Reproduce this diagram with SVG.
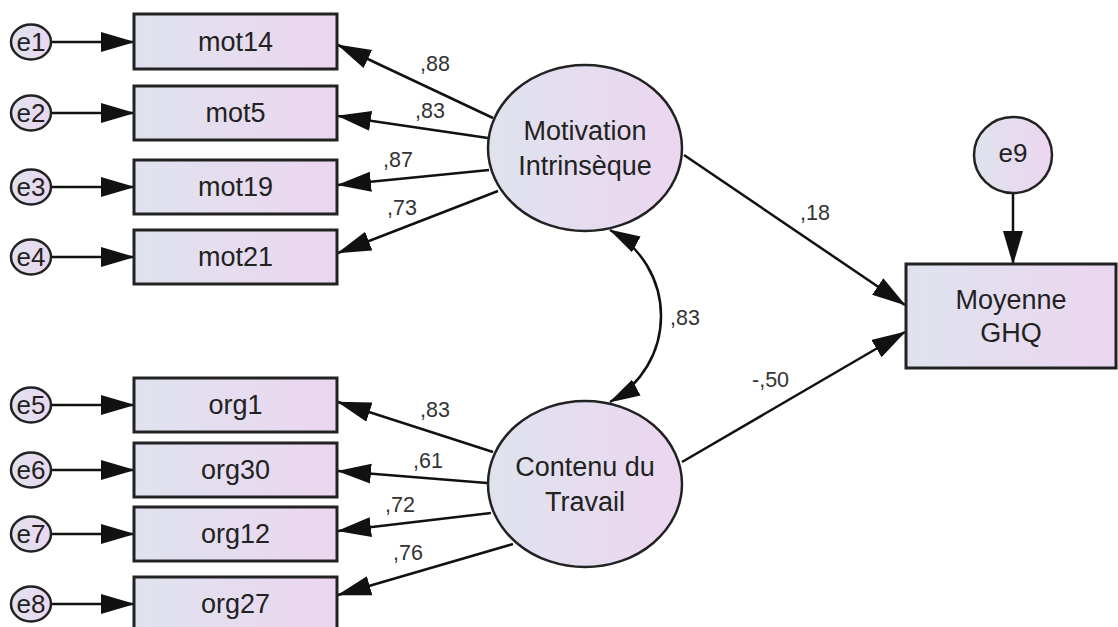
<svg xmlns="http://www.w3.org/2000/svg" width="1118" height="627" viewBox="0 0 1118 627">
<defs>
<linearGradient id="g" x1="0" y1="0" x2="1" y2="0">
<stop offset="0" stop-color="#dfe3ee"/>
<stop offset="1" stop-color="#ecd6f0"/>
</linearGradient>
<marker id="ah" markerUnits="userSpaceOnUse" markerWidth="36" markerHeight="22" refX="33" refY="10" orient="auto">
<path d="M0,0 L34,10 L0,20 z" fill="#111"/>
</marker>
<marker id="ah2" markerUnits="userSpaceOnUse" markerWidth="34" markerHeight="22" refX="30" refY="9" orient="auto-start-reverse">
<path d="M0,0 L31,9 L0,18 z" fill="#111"/>
</marker>
<style>
.box{fill:url(#g);stroke:#222;stroke-width:3}
.ell{fill:url(#g);stroke:#222;stroke-width:2.5}
.t{font-family:"Liberation Sans",Arial,sans-serif;font-size:27px;fill:#222;text-anchor:middle;dominant-baseline:central}
.et{font-family:"Liberation Sans",Arial,sans-serif;font-size:26px;fill:#222;text-anchor:middle;dominant-baseline:central}
.lb{font-family:"Liberation Sans",Arial,sans-serif;font-size:21.5px;fill:#333}
.c{stroke:#111;stroke-width:2.5;fill:none;marker-end:url(#ah)}
</style>
</defs>

<g id="connectors">
<line class="c" x1="51" y1="42" x2="134" y2="42"/>
<line class="c" x1="51" y1="113" x2="134" y2="113"/>
<line class="c" x1="51" y1="187" x2="134" y2="187"/>
<line class="c" x1="51" y1="257" x2="134" y2="257"/>
<line class="c" x1="51" y1="405" x2="134" y2="405"/>
<line class="c" x1="51" y1="470" x2="134" y2="470"/>
<line class="c" x1="51" y1="534" x2="134" y2="534"/>
<line class="c" x1="51" y1="604" x2="134" y2="604"/>
<line class="c" x1="493" y1="118" x2="338" y2="45"/>
<line class="c" x1="488" y1="138" x2="338" y2="116"/>
<line class="c" x1="489" y1="170" x2="338" y2="185"/>
<line class="c" x1="498" y1="191" x2="338" y2="253"/>
<line class="c" x1="493" y1="452" x2="338" y2="402"/>
<line class="c" x1="487" y1="483" x2="338" y2="471"/>
<line class="c" x1="491" y1="513" x2="338" y2="531"/>
<line class="c" x1="513" y1="544" x2="338" y2="595"/>
<line class="c" x1="684" y1="155" x2="905" y2="305"/>
<line class="c" x1="682" y1="462" x2="905" y2="332"/>
<line class="c" x1="1013" y1="193" x2="1013" y2="264"/>
<path d="M610,230 A98,98 0 0 1 610,402" fill="none" stroke="#111" stroke-width="2.5" marker-start="url(#ah2)" marker-end="url(#ah2)"/>
<text class="lb" x="420" y="71">,88</text>
<text class="lb" x="415" y="118">,83</text>
<text class="lb" x="383" y="167">,87</text>
<text class="lb" x="387" y="215">,73</text>
<text class="lb" x="420" y="417">,83</text>
<text class="lb" x="413" y="468">,61</text>
<text class="lb" x="385" y="512">,72</text>
<text class="lb" x="393" y="560">,76</text>
<text class="lb" x="800" y="220">,18</text>
<text class="lb" x="752" y="387">-,50</text>
<text class="lb" x="670" y="325">,83</text>
</g>

<g id="e1"><ellipse class="ell" cx="31" cy="42" rx="20" ry="17.5"/><text class="et" x="31" y="42">e1</text></g>
<g id="e2"><ellipse class="ell" cx="31" cy="113" rx="20" ry="17.5"/><text class="et" x="31" y="113">e2</text></g>
<g id="e3"><ellipse class="ell" cx="31" cy="187" rx="20" ry="17.5"/><text class="et" x="31" y="187">e3</text></g>
<g id="e4"><ellipse class="ell" cx="31" cy="257" rx="20" ry="17.5"/><text class="et" x="31" y="257">e4</text></g>
<g id="e5"><ellipse class="ell" cx="31" cy="405" rx="20" ry="17.5"/><text class="et" x="31" y="405">e5</text></g>
<g id="e6"><ellipse class="ell" cx="31" cy="470" rx="20" ry="17.5"/><text class="et" x="31" y="470">e6</text></g>
<g id="e7"><ellipse class="ell" cx="31" cy="534" rx="20" ry="17.5"/><text class="et" x="31" y="534">e7</text></g>
<g id="e8"><ellipse class="ell" cx="31" cy="604" rx="20" ry="17.5"/><text class="et" x="31" y="604">e8</text></g>

<g id="mot14"><rect class="box" x="134" y="14" width="203" height="55"/><text class="t" x="235.5" y="41.5">mot14</text></g>
<g id="mot5"><rect class="box" x="134" y="86" width="203" height="54"/><text class="t" x="235.5" y="113">mot5</text></g>
<g id="mot19"><rect class="box" x="134" y="160" width="203" height="54"/><text class="t" x="235.5" y="187">mot19</text></g>
<g id="mot21"><rect class="box" x="134" y="230" width="203" height="54"/><text class="t" x="235.5" y="257">mot21</text></g>
<g id="org1"><rect class="box" x="134" y="378" width="203" height="54"/><text class="t" x="235.5" y="405">org1</text></g>
<g id="org30"><rect class="box" x="134" y="443" width="203" height="54"/><text class="t" x="235.5" y="470">org30</text></g>
<g id="org12"><rect class="box" x="134" y="507" width="203" height="54"/><text class="t" x="235.5" y="534">org12</text></g>
<g id="org27"><rect class="box" x="134" y="577" width="203" height="54"/><text class="t" x="235.5" y="604">org27</text></g>

<g id="motivation"><ellipse class="ell" cx="585" cy="148" rx="97" ry="83"/><text class="t" x="585" y="131">Motivation</text><text class="t" x="585" y="166">Intrinsèque</text></g>
<g id="contenu"><ellipse class="ell" cx="585" cy="484" rx="97" ry="83"/><text class="t" x="585" y="467">Contenu du</text><text class="t" x="585" y="502">Travail</text></g>
<g id="ghq"><rect class="box" x="906" y="264" width="210" height="104"/><text class="t" x="1011" y="300">Moyenne</text><text class="t" x="1011" y="333">GHQ</text></g>
<g id="e9"><ellipse class="ell" cx="1013" cy="155" rx="39" ry="38"/><text class="et" x="1013" y="153">e9</text></g>
</svg>
